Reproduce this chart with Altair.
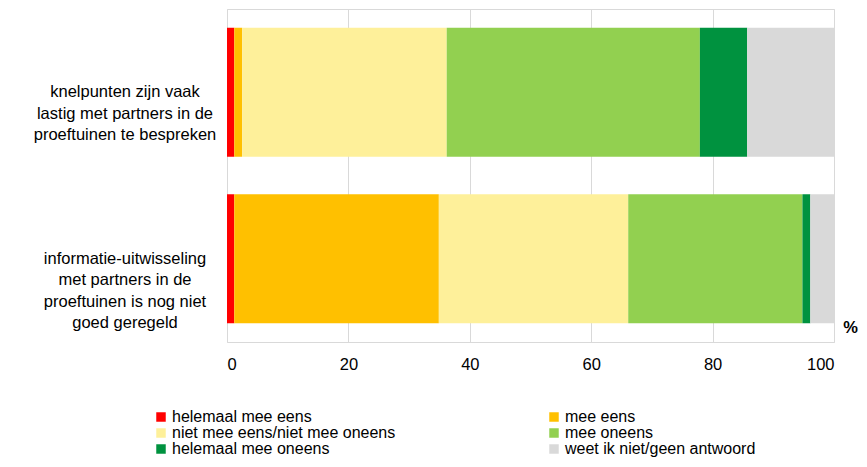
import altair as alt
import pandas as pd

categories = [
    "knelpunten zijn vaak lastig met partners in de proeftuinen te bespreken",
    "informatie-uitwisseling met partners in de proeftuinen is nog niet goed geregeld",
]
category_lines = [
    "knelpunten zijn vaak\nlastig met partners in de\nproeftuinen te bespreken",
    "informatie-uitwisseling\nmet partners in de\nproeftuinen is nog niet\ngoed geregeld",
]
answers = [
    "helemaal mee eens",
    "mee eens",
    "niet mee eens/niet mee oneens",
    "mee oneens",
    "helemaal mee oneens",
    "weet ik niet/geen antwoord",
]
colors = ["#FF0000", "#FFC000", "#FEF09A", "#92D050", "#00923F", "#D9D9D9"]
values_top = [1.2, 1.3, 33.7, 41.7, 7.8, 14.3]
values_bottom = [1.2, 33.7, 31.2, 28.7, 1.3, 3.9]

rows = []
for cat, vals in zip(categories, [values_top, values_bottom]):
    for i, (ans, v) in enumerate(zip(answers, vals)):
        rows.append({"cat": cat, "answer": ans, "value": v, "ord": i})
df = pd.DataFrame(rows)
labels_df = pd.DataFrame({"cat": categories, "label": category_lines})

y_enc = alt.Y("cat:N", sort=categories, axis=None,
              scale=alt.Scale(paddingInner=0, paddingOuter=0))

bars = alt.Chart(df).mark_bar(size=129).encode(
    x=alt.X("value:Q", stack="zero",
            scale=alt.Scale(domain=[0, 100], nice=False),
            axis=alt.Axis(values=[0, 20, 40, 60, 80, 100], title="%",
                          domain=False, ticks=False, labelPadding=14,
                          labelFontSize=16.5, labelColor="#000000",
                          gridColor="#D9D9D9", gridWidth=1,
                          titleFontSize=16.5, titleFontWeight="bold",
                          titleAnchor="end", titleX=623, titleY=-15,
                          titleAlign="center", titleBaseline="middle",
                          titleColor="#000000")),
    y=y_enc,
    color=alt.Color("answer:N", sort=answers,
                    scale=alt.Scale(domain=answers, range=colors),
                    legend=alt.Legend(title=None, orient="none",
                                      direction="horizontal",
                                      legendX=-74, legendY=400,
                                      columns=2, columnPadding=150,
                                      rowPadding=0, symbolType="square",
                                      symbolSize=90, symbolStrokeWidth=0,
                                      symbolOffset=0, labelOffset=3,
                                      labelFontSize=16, labelColor="#000000",
                                      labelLimit=400)),
    order=alt.Order("ord:Q"),
)

texts = alt.Chart(labels_df).mark_text(
    align="center", baseline="middle", lineBreak="\n",
    fontSize=16.5, lineHeight=21.5, color="#000000",
).encode(
    y=y_enc,
    x=alt.value(-102),
    text="label:N",
)

chart = alt.layer(bars, texts).properties(
    width=607, height=333,
    autosize=alt.AutoSizeParams(type="none"),
    padding={"left": 219, "top": 1, "right": 25, "bottom": 117},
).configure(
    font="Liberation Sans",
).configure_view(
    stroke="#D9D9D9", strokeWidth=1,
)

chart.save("out.html", embed_options={"renderer": "svg", "actions": False})
